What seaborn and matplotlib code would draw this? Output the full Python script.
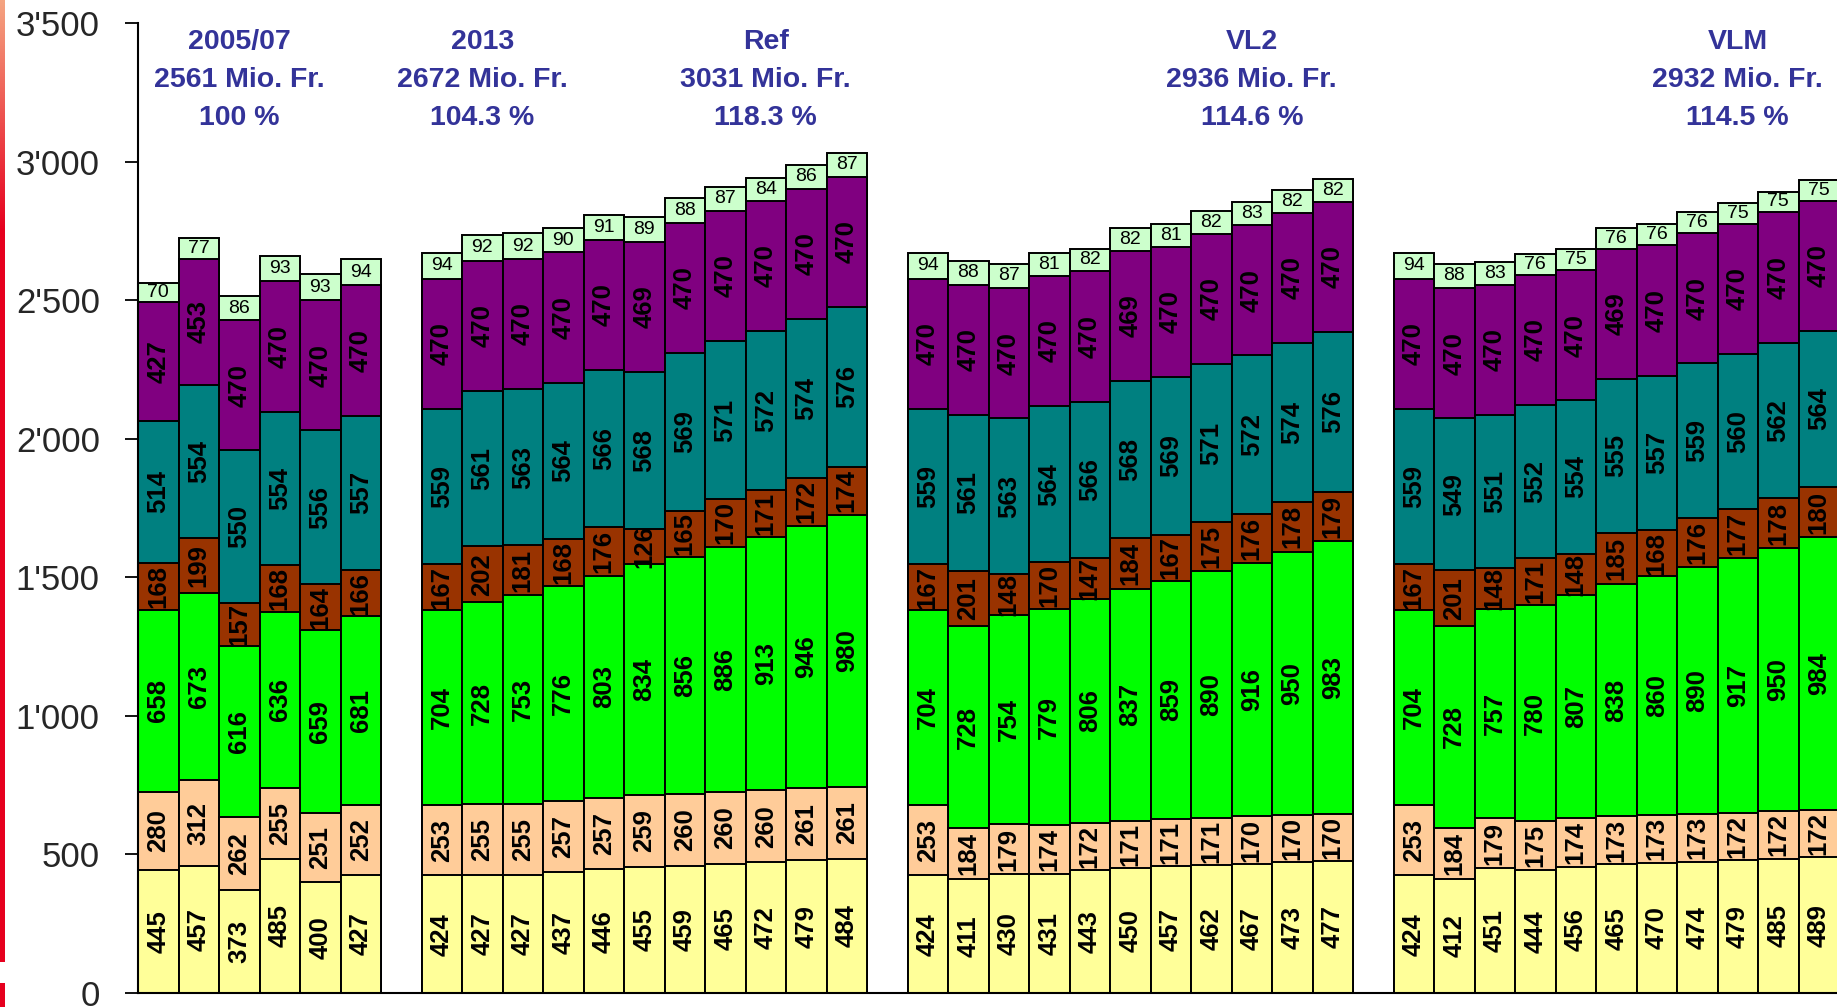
import numpy as np
import pandas as pd
import matplotlib
matplotlib.use("Agg")
import matplotlib.pyplot as plt
import seaborn as sns

# bars per scenario block
group_sizes = [6, 11, 11, 11]

# header text of each block and where it sits (x in bar positions)
header_x = [2, 8, 15, 27, 39]
header_text = [
    ["2005/07", "2561 Mio. Fr.", "100 %"],
    ["2013", "2672 Mio. Fr.", "104.3 %"],
    ["Ref", "3031 Mio. Fr.", "118.3 %"],
    ["VL2", "2936 Mio. Fr.", "114.6 %"],
    ["VLM", "2932 Mio. Fr.", "114.5 %"],
]

# stacked series, bottom to top
yellow = [445, 457, 373, 485, 400, 427,
          424, 427, 427, 437, 446, 455, 459, 465, 472, 479, 484,
          424, 411, 430, 431, 443, 450, 457, 462, 467, 473, 477,
          424, 412, 451, 444, 456, 465, 470, 474, 479, 485, 489]
peach = [280, 312, 262, 255, 251, 252,
         253, 255, 255, 257, 257, 259, 260, 260, 260, 261, 261,
         253, 184, 179, 174, 172, 171, 171, 171, 170, 170, 170,
         253, 184, 179, 175, 174, 173, 173, 173, 172, 172, 172]
green = [658, 673, 616, 636, 659, 681,
         704, 728, 753, 776, 803, 834, 856, 886, 913, 946, 980,
         704, 728, 754, 779, 806, 837, 859, 890, 916, 950, 983,
         704, 728, 757, 780, 807, 838, 860, 890, 917, 950, 984]
brown = [168, 199, 157, 168, 164, 166,
         167, 202, 181, 168, 176, 126, 165, 170, 171, 172, 174,
         167, 201, 148, 170, 147, 184, 167, 175, 176, 178, 179,
         167, 201, 148, 171, 148, 185, 168, 176, 177, 178, 180]
teal = [514, 554, 550, 554, 556, 557,
        559, 561, 563, 564, 566, 568, 569, 571, 572, 574, 576,
        559, 561, 563, 564, 566, 568, 569, 571, 572, 574, 576,
        559, 549, 551, 552, 554, 555, 557, 559, 560, 562, 564]
purple = [427, 453, 470, 470, 470, 470,
          470, 470, 470, 470, 470, 469, 470, 470, 470, 470, 470,
          470, 470, 470, 470, 470, 469, 470, 470, 470, 470, 470,
          470, 470, 470, 470, 470, 469, 470, 470, 470, 470, 470]
mint = [70, 77, 86, 93, 93, 94,
        94, 92, 92, 90, 91, 89, 88, 87, 84, 86, 87,
        94, 88, 87, 81, 82, 82, 81, 82, 83, 82, 82,
        94, 88, 83, 76, 75, 76, 76, 76, 75, 75, 75]

series = [yellow, peach, green, brown, teal, purple, mint]
colors = ["#FFFF99", "#FFCC99", "#00FF00", "#993300", "#008080", "#800080", "#CCFFCC"]

y_ticks = [0, 500, 1000, 1500, 2000, 2500, 3000, 3500]

# bar positions with one empty slot between blocks
pos = []
start = 0
for n in group_sizes:
    pos += list(range(start, start + n))
    start += n + 1

sns.set_style("white")
plt.rcParams["font.family"] = ["Liberation Sans", "DejaVu Sans"]

fig = plt.figure(figsize=(18.37, 10.07), dpi=100)
ax = fig.add_axes([138 / 1837, 14 / 1007, 1 - 138 / 1837, 970 / 1007])

stack = np.array(series, dtype=float)
cum = np.cumsum(stack, axis=0)

# draw cumulative totals from the top down so each layer covers the one above
for k in reversed(range(len(series))):
    df = pd.DataFrame({"pos": pos, "val": cum[k]})
    sns.barplot(data=df, x="pos", y="val", native_scale=True, color=colors[k],
                saturation=1, width=1, edgecolor="black", linewidth=1.4,
                errorbar=None, ax=ax)

# segment labels
for k in range(len(series)):
    for i, x in enumerate(pos):
        v = stack[k, i]
        mid = cum[k, i] - v / 2
        if k == len(series) - 1:
            ax.text(x, mid, f"{int(v)}", ha="center", va="center",
                    fontsize=14, color="black")
        else:
            ax.text(x, mid, f"{int(v)}", ha="center", va="center", rotation=90,
                    fontsize=18.5, fontweight="bold", color="black")

for x, lines in zip(header_x, header_text):
    ax.text(x, 3293, "\n".join(lines), ha="center", va="center", color="#333399",
            fontsize=20.5, fontweight="bold", linespacing=1.6)

ax.set_xlim(-0.5, 41.45)
ax.set_ylim(0, 3500)
ax.set_xticks([])
ax.set_yticks(y_ticks)
ax.set_yticklabels([f"{v:,}".replace(",", "'") for v in y_ticks])
ax.set_xlabel("")
ax.set_ylabel("")
ax.tick_params(axis="y", left=True, length=9.5, width=1.3, pad=18,
               labelsize=25, color="black")
for s in ["top", "right"]:
    ax.spines[s].set_visible(False)
for s in ["left", "bottom"]:
    ax.spines[s].set_color("black")
    ax.spines[s].set_linewidth(1.5)

# red decorative strip at the left edge of the slide
strip = np.ones((1007, 1, 3))
top = np.array([245, 165, 130]) / 255
red = np.array([230, 0, 30]) / 255
t = np.clip(np.arange(1007) / 230, 0, 1)[:, None]
strip[:, 0, :] = top * (1 - t) + red * t
strip[962:983, 0, :] = 1
sax = fig.add_axes([0, 0, 5 / 1837, 1])
sax.imshow(strip, aspect="auto", interpolation="bilinear")
sax.axis("off")

fig.savefig("out.png", dpi=100)
